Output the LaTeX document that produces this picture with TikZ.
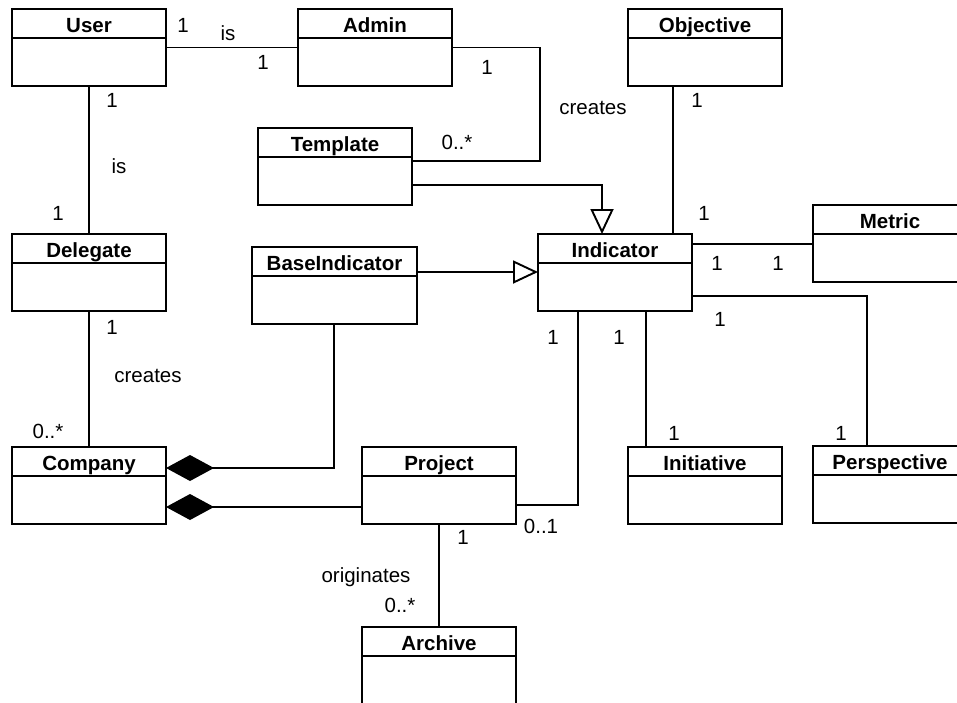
\documentclass[tikz,border=0pt]{standalone}
\usepackage{fontspec}
\setmainfont{Liberation Sans}
\usetikzlibrary{arrows.meta}

\tikzset{
  classbox/.style={draw, line width=2pt, minimum height=77pt, inner sep=0pt,
    outer sep=0pt, anchor=north west},
  classline/.style={line width=2pt},
  classtitle/.style={font=\fontsize{20.5}{22}\selectfont\bfseries, inner sep=0pt, anchor=base},
  assoc/.style={line width=1.9pt},
  gen/.style={line width=1.9pt, -{Triangle[open, length=25pt, width=23pt]}},
  comp/.style={line width=1.9pt, {Diamond[length=48pt, width=26pt]}-},
  lbl/.style={font=\fontsize{20.5}{22}\selectfont, inner sep=0pt},
}

% class box: name, left, top, width, title
\newcommand\umlclass[5]{%
  \node[classbox, minimum width=#4pt] (#1) at (#2,#3) {};
  \draw[classline] ([yshift=-29pt]#1.north west) -- ([yshift=-29pt]#1.north east);
  \node[classtitle] (#1-title) at ([yshift=-23.5pt]#1.north) {#5};
}

\begin{document}
\begin{tikzpicture}[x=1pt, y=-1pt]
  \path[use as bounding box] (0,0) rectangle (957,702);
  \clip (0,0) rectangle (957,702);
  \fill[white] (0,0) rectangle (957,702);

  % classes
  \umlclass{User}{12}{9}{154}{User}
  \umlclass{Admin}{298}{9}{154}{Admin}
  \umlclass{Objective}{628}{9}{154}{Objective}
  \umlclass{Template}{258}{128}{154}{Template}
  \umlclass{Metric}{813}{205}{154}{Metric}
  \umlclass{Delegate}{12}{234}{154}{Delegate}
  \umlclass{Indicator}{538}{234}{154}{Indicator}
  \umlclass{BaseIndicator}{252}{247}{165}{BaseIndicator}
  \umlclass{Company}{12}{447}{154}{Company}
  \umlclass{Project}{362}{447}{154}{Project}
  \umlclass{Initiative}{628}{447}{154}{Initiative}
  \umlclass{Perspective}{813}{446}{154}{Perspective}
  \umlclass{Archive}{362}{627}{154}{Archive}

  % associations
  \draw[assoc] (User.east) -- (Admin.west);
  \draw[assoc] ([xshift=77pt]User.south west) -- ([xshift=77pt]Delegate.north west);
  \draw[assoc] (Admin.east) -- ++(88,0) |- ([yshift=-33pt]Template.north east);
  \draw[assoc] ([xshift=45pt]Objective.south west) -- ([xshift=135pt]Indicator.north west);
  \draw[assoc] ([yshift=-10pt]Indicator.north east) -- ([yshift=-39pt]Metric.north west);
  \draw[assoc] ([yshift=-62pt]Indicator.north east) -| ([xshift=54pt]Perspective.north west);
  \draw[assoc] ([xshift=108pt]Indicator.south west) -- ([xshift=18pt]Initiative.north west);
  \draw[assoc] ([xshift=40pt]Indicator.south west) |- ([yshift=-58pt]Project.north east);
  \draw[assoc] ([xshift=77pt]Delegate.south west) -- ([xshift=77pt]Company.north west);
  \draw[assoc] (Project.south) -- (Archive.north);

  % generalisations
  \draw[gen] ([yshift=-57pt]Template.north east) -| ([xshift=64pt]Indicator.north west);
  \draw[gen] ([yshift=-25pt]BaseIndicator.north east) -- ([yshift=-38pt]Indicator.north west);

  % compositions
  \draw[comp] ([yshift=-21pt]Company.north east) -| ([xshift=82pt]BaseIndicator.south west);
  \draw[comp] ([yshift=-60pt]Company.north east) -- ([yshift=-60pt]Project.north west);

  % multiplicities and association names
  \node[lbl] (m1) at (183,25) {1};
  \node[lbl] (n1) at (228,33) {is};
  \node[lbl] (m2) at (263,62) {1};
  \node[lbl] (m3) at (112,100) {1};
  \node[lbl] (n2) at (119,166) {is};
  \node[lbl] (m4) at (58,213) {1};
  \node[lbl] (m5) at (487,67) {1};
  \node[lbl] (n3) at (593,108) {creates};
  \node[lbl] (m6) at (457,142) {0..*};
  \node[lbl] (m7) at (697,100) {1};
  \node[lbl] (m8) at (704,213) {1};
  \node[lbl] (m9) at (717,263) {1};
  \node[lbl] (m10) at (778,263) {1};
  \node[lbl] (m11) at (720,319) {1};
  \node[lbl] (m12) at (553,337) {1};
  \node[lbl] (m13) at (619,337) {1};
  \node[lbl] (m14) at (674,433) {1};
  \node[lbl] (m15) at (841,433) {1};
  \node[lbl] (m16) at (112,327) {1};
  \node[lbl] (n4) at (148,376) {creates};
  \node[lbl] (m17) at (48,431) {0..*};
  \node[lbl] (m18) at (541,526) {0..1};
  \node[lbl] (m19) at (463,537) {1};
  \node[lbl] (n5) at (366,577) {originates};
  \node[lbl] (m20) at (400,605) {0..*};
\end{tikzpicture}
\end{document}
